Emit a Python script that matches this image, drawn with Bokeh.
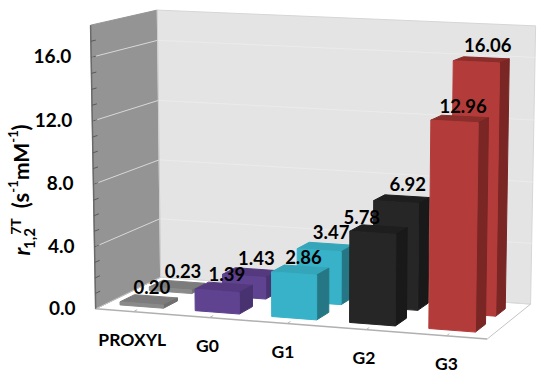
import numpy as np
from bokeh.plotting import figure
from bokeh.models import Range1d
from bokeh.core.properties import value
from bokeh.embed import file_html
from bokeh.resources import INLINE

categories = ["PROXYL", "G0", "G1", "G2", "G3"]
front_values = [0.20, 1.39, 2.86, 5.78, 12.96]
back_values = [0.23, 1.43, 3.47, 6.92, 16.06]
y_ticks = [0, 4, 8, 12, 16]
y_max = 18
front_colors = ["#8a8a8a", "#5f4290", "#37b2c8", "#262626", "#b33c3a"]
side_colors = ["#6f6f6f", "#493270", "#267785", "#191919", "#7a2624"]
top_colors = ["#7c7c7c", "#54397f", "#35a5b9", "#1e1e1e", "#8a2d2b"]
front_label_nudge = [0, 0, 0, -20, 0]
cat_label_nudge = [-1, -2, -4, -2, 0]
FONT = "Lato"

# camera fit: world (u, depth, v) -> reference pixel
world = [(0,0,0),(5,0,0),(0,1,0),(5,1,0),(0,0,18),(5,0,18),(0,1,18),(5,1,18)]
screen = [(95,305),(487,340),(160,280),(530,302),(89,24),(492,45),(158,10),(534,23)]
A = []; b = []
for (u,d,v),(x,y) in zip(world, screen):
    A.append([u,d,v,1,0,0,0,0,-x*u,-x*d,-x*v]); b.append(x)
    A.append([0,0,0,0,u,d,v,1,-y*u,-y*d,-y*v]); b.append(y)
P = np.append(np.linalg.lstsq(np.array(A,float), np.array(b,float), rcond=None)[0], 1.0).reshape(3,4)

def proj(u, d, v):
    h = P @ np.array([u, d, v, 1.0])
    return h[0]/h[2], h[1]/h[2]

def quad(pts):
    q = [proj(*p) for p in pts]
    return [a[0] for a in q], [a[1] for a in q]

p = figure(width=542, height=373, x_range=Range1d(0,542), y_range=Range1d(373,0),
           output_backend="svg", toolbar_location=None, min_border=0)
p.axis.visible = False
p.grid.visible = False
p.outline_line_color = None
p.background_fill_color = None
p.border_fill_color = None

def face(pts, color, lc=None, lw=1):
    x, y = quad(pts)
    p.patch(x, y, fill_color=color, line_color=lc or color, line_width=lw)

def seg(a, b, color, w=1):
    xa, ya = proj(*a); xb, yb = proj(*b)
    p.line([xa,xb],[ya,yb], line_color=color, line_width=w)

# walls
face([(0,0,0),(0,1,0),(0,1,18),(0,0,18)], "#949494")
face([(0,1,0),(5,1,0),(5,1,18),(0,1,18)], "#e4e4e4", "#d6d6d6")
for t in y_ticks[1:]:
    seg((0,0,t),(0,1,t),"#d8d8d8",1)
    seg((0,1,t),(5,1,t),"#ebebeb",1)
seg((0,1,0),(5,1,0),"#d9d9d9",1)
seg((0,1,0),(0,1,18),"#cfcfcf",1)
# floor edges
seg((0,0,0),(5,0,0),"#b0b0b0",1.5)
seg((5,0,0),(5,1,0),"#c4c4c4",1)
seg((0,0,0),(0,1,0),"#c4c4c4",1)
seg((0,0,0),(0,0,18),"#6a6a6a",1.5)
for t in range(1, y_max):
    seg((0,0,t),(0,0.07,t),"#5a5a5a",1)
for i in range(len(categories)):
    seg((i+.5,0,0),(i+.5,0.06,0),"#b8b8b8",1)

def bar(i, val, d0, d1):
    w = 0.29
    c = i + 0.48
    u0, u1 = c-w, c+w
    face([(u0,d0,val),(u1,d0,val),(u1,d1,val),(u0,d1,val)], top_colors[i])
    face([(u1,d0,0),(u1,d1,0),(u1,d1,val),(u1,d0,val)], side_colors[i])
    face([(u0,d0,0),(u1,d0,0),(u1,d0,val),(u0,d0,val)], front_colors[i])

for i, val in enumerate(back_values):
    bar(i, val, 0.60, 0.82)
for i, val in enumerate(front_values):
    bar(i, val, 0.15, 0.37)

def label(x, y, s, size, align="center", angle=0, style="bold"):
    p.text([x],[y],text=[s],text_font=value(FONT),text_font_size=f"{size}px",
           text_font_style=style,text_align=align,text_baseline="middle",
           text_color="#000000",angle=angle)

for i,(f,bk) in enumerate(zip(front_values, back_values)):
    x,y = proj(i+.5+.02, 0.26, f)
    label(x+front_label_nudge[i], y-13, f"{f:.2f}", 18.5)
    x,y = proj(i+.5+.06, 0.71, bk)
    label(x, y-15, f"{bk:.2f}", 18.5)

for t in y_ticks:
    x,y = proj(0,0,t)
    label(x-20, y-1, f"{t:.1f}", 19, align="right")

for i,c in enumerate(categories):
    x,y = proj(i+.5,0,0)
    label(x+cat_label_nudge[i], y+28, c, 17.5)

# rotated axis title, built upward from its foot
ang = np.pi/2
pieces = [("r",22,21,251,"bold italic"),("1,2",15,29,238,"bold"),("7T",14,15,226,"bold"),
          ("(s",22,20,200,"bold"),("-1",13,12,186,"bold"),("mM",21,20,161,"bold"),
          ("-1",13,12,136,"bold"),(")",22,20,127,"bold")]
for s,size,x,y,st in pieces:
    label(x,y,s,size,angle=ang,style=st)

open("out.html","w").write(file_html(p, INLINE))
